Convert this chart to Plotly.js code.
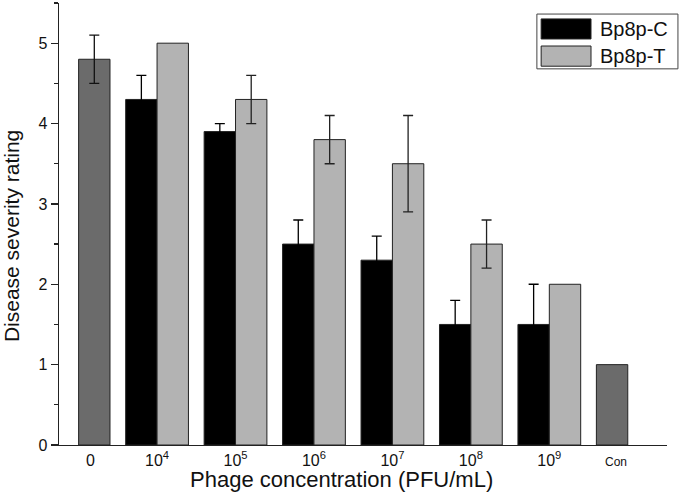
<!DOCTYPE html>
<html>
<head>
<meta charset="utf-8">
<script src="https://cdn.plot.ly/plotly-3.0.1.min.js"></script>
<style>html,body{margin:0;padding:0;background:#fff}#chart{width:680px;height:492px}</style>
</head>
<body>
<div id="chart"></div>
<script>
// Data
var categories = ['0', '10<sup>4</sup>', '10<sup>5</sup>', '10<sup>6</sup>', '10<sup>7</sup>', '10<sup>8</sup>', '10<sup>9</sup>', 'Con'];
var phageCats = ['10<sup>4</sup>', '10<sup>5</sup>', '10<sup>6</sup>', '10<sup>7</sup>', '10<sup>8</sup>', '10<sup>9</sup>'];
var seriesNames = ['Bp8p-C', 'Bp8p-T'];
var bp8pC = [4.3, 3.9, 2.5, 2.3, 1.5, 1.5];
var bp8pCErr = [0.3, 0.1, 0.3, 0.3, 0.3, 0.5];
var bp8pT = [5.0, 4.3, 3.8, 3.5, 2.5, 2.0];
var bp8pTErr = [NaN, 0.3, 0.3, 0.6, 0.3, NaN];   // NaN = no error bar drawn
var controlCats = ['0', 'Con'];
var controlVals = [4.8, 1.0];
var controlErr = [0.3, NaN];
var tickText = ['0', '10<sup>4</sup>', '10<sup>5</sup>', '10<sup>6</sup>', '10<sup>7</sup>', '10<sup>8</sup>', '10<sup>9</sup>', '<span style="font-size:12px">Con</span>'];
var xTitle = 'Phage concentration (PFU/mL)';
var yTitle = 'Disease severity rating';

var FONT = 'Liberation Sans, Arial, sans-serif';
var lineStyle = {color: '#222', width: 1};

var traces = [
  {
    type: 'bar', name: 'control', x: controlCats, y: controlVals,
    offset: [0, -0.4], width: 0.4,
    marker: {color: '#6b6b6b', line: lineStyle},
    error_y: {type: 'data', array: controlErr, visible: true, color: '#111', thickness: 1.3, width: 5},
    showlegend: false
  },
  {
    type: 'bar', name: seriesNames[0], x: phageCats, y: bp8pC,
    offset: -0.4, width: 0.4,
    marker: {color: '#000000', line: lineStyle},
    error_y: {type: 'data', array: bp8pCErr, visible: true, color: '#000', thickness: 1.3, width: 5},
    showlegend: false
  },
  {
    type: 'bar', name: seriesNames[1], x: phageCats, y: bp8pT,
    offset: 0, width: 0.4,
    marker: {color: '#b3b3b3', line: lineStyle},
    error_y: {type: 'data', array: bp8pTErr, visible: true, color: '#222', thickness: 1.3, width: 5},
    showlegend: false
  }
];

var shapes = [
  {type: 'rect', xref: 'paper', yref: 'paper', x0: 0.786, x1: 1.018, y0: 0.851, y1: 0.975,
   line: {color: '#444', width: 1}, fillcolor: 'rgba(255,255,255,0)'},
  {type: 'rect', xref: 'paper', yref: 'paper', x0: 0.793, x1: 0.875, y0: 0.9186, y1: 0.964,
   line: {color: '#222', width: 1}, fillcolor: '#000000'},
  {type: 'rect', xref: 'paper', yref: 'paper', x0: 0.793, x1: 0.875, y0: 0.857, y1: 0.9027,
   line: {color: '#222', width: 1}, fillcolor: '#b3b3b3'}
];

var annotations = [
  {xref: 'paper', yref: 'paper', x: 0.8865, y: 0.941, text: seriesNames[0], showarrow: false,
   xanchor: 'left', yanchor: 'middle', font: {family: FONT, size: 20, color: '#111'}},
  {xref: 'paper', yref: 'paper', x: 0.8865, y: 0.880, text: seriesNames[1], showarrow: false,
   xanchor: 'left', yanchor: 'middle', font: {family: FONT, size: 20, color: '#111'}},
  {xref: 'paper', yref: 'paper', x: 0.464, y: -0.077, text: xTitle, showarrow: false,
   xanchor: 'center', yanchor: 'middle', font: {family: FONT, size: 22, color: '#111'}},
  {xref: 'paper', yref: 'paper', x: -0.077, y: 0.473, text: yTitle, showarrow: false, textangle: -90,
   xanchor: 'center', yanchor: 'middle', font: {family: FONT, size: 21, color: '#111'}}
];

var layout = {
  width: 680, height: 492,
  margin: {l: 59, r: 13, t: 3, b: 47},
  paper_bgcolor: '#fff', plot_bgcolor: '#fff',
  barmode: 'overlay',
  showlegend: false,
  font: {family: FONT, color: '#111'},
  xaxis: {
    type: 'category', categoryorder: 'array', categoryarray: categories,
    range: [-0.25, 7.5],
    tickmode: 'array', tickvals: [0.15, 1, 2, 3, 4, 5, 6, 6.85], ticktext: tickText,
    ticks: '', showgrid: false, zeroline: false,
    showline: true, linecolor: '#222', linewidth: 1.3,
    tickfont: {family: FONT, size: 16, color: '#111'}
  },
  yaxis: {
    range: [0, 5.5], dtick: 1, tick0: 0,
    ticks: 'outside', ticklen: 7, tickwidth: 1.3, tickcolor: '#222',
    minor: {dtick: 0.5, ticks: 'outside', ticklen: 4, tickwidth: 1.3, tickcolor: '#222', showgrid: false},
    showgrid: false, zeroline: false,
    showline: true, linecolor: '#222', linewidth: 1.3,
    tickfont: {family: FONT, size: 16, color: '#111'}
  },
  shapes: shapes,
  annotations: annotations
};

Plotly.newPlot('chart', traces, layout, {displayModeBar: false, staticPlot: true});
</script>
</body>
</html>
